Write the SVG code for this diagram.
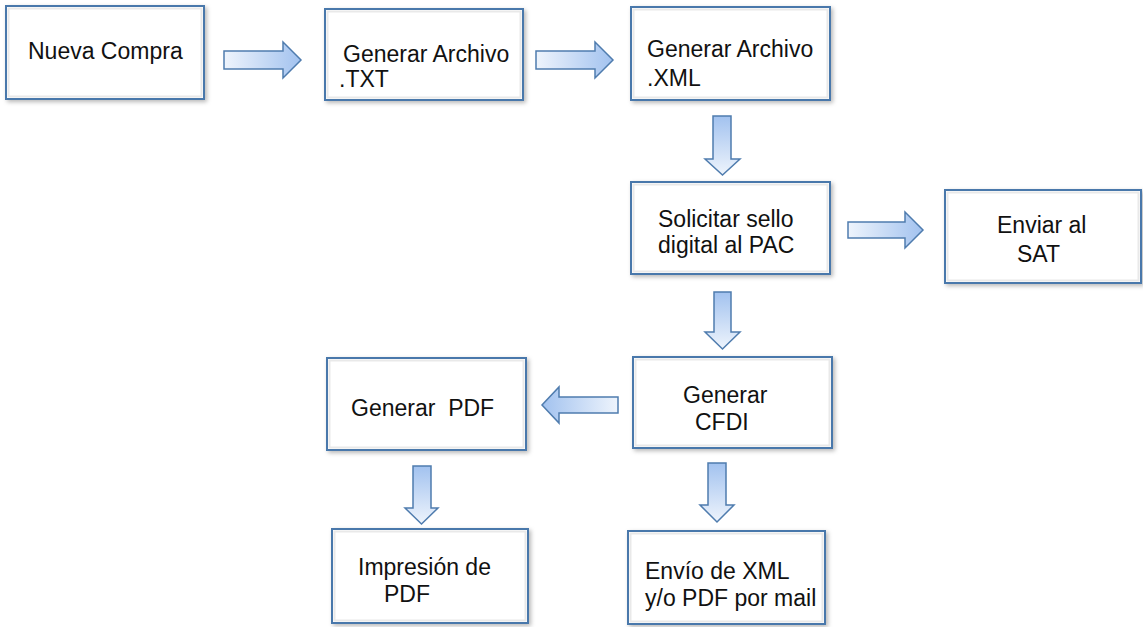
<svg xmlns="http://www.w3.org/2000/svg" width="1143" height="627" viewBox="0 0 1143 627">
<defs>
<filter id="sh" x="-10%" y="-10%" width="125%" height="130%">
<feDropShadow dx="2" dy="2" stdDeviation="2" flood-color="#000" flood-opacity="0.28"/>
</filter>
<linearGradient id="gR" x1="0" y1="0" x2="1" y2="0"><stop offset="0" stop-color="#eef4fc"/><stop offset="1" stop-color="#a2c2ef"/></linearGradient>
<linearGradient id="gL" x1="1" y1="0" x2="0" y2="0"><stop offset="0" stop-color="#eef4fc"/><stop offset="1" stop-color="#a2c2ef"/></linearGradient>
<linearGradient id="gD" x1="0" y1="0" x2="0" y2="1"><stop offset="0" stop-color="#a2c2ef"/><stop offset="1" stop-color="#eef4fc"/></linearGradient>
<style>
.box{fill:#fff;stroke:#4a78ab;stroke-width:2;filter:url(#sh)}
.inner{fill:none;stroke:#e9e9e9;stroke-width:2}
.t{font-family:"Liberation Sans",Arial,sans-serif;font-size:23px;fill:#111}
.arr{stroke:#4f7cae;stroke-width:1.5;stroke-linejoin:miter}
</style>
</defs>
<rect width="1143" height="627" fill="#fff"/>

<g id="connectors">
<path class="arr" fill="url(#gR)" d="M224,51 H283 V42 L301,60 L283,78 V69 H224 Z"/>
<path class="arr" fill="url(#gR)" d="M536,51 H595 V42 L613,60 L595,78 V69 H536 Z"/>
<path class="arr" fill="url(#gD)" d="M713,116 V159 H705 L722.5,175 L740,159 H731 V116 Z"/>
<path class="arr" fill="url(#gR)" d="M848,222 H905 V212 L923,230 L905,248 V238 H848 Z"/>
<path class="arr" fill="url(#gD)" d="M714,292 V332 H705 L722.5,349 L740,332 H731 V292 Z"/>
<path class="arr" fill="url(#gL)" d="M618,397 H559 V387 L542,405 L559,423 V413 H618 Z"/>
<path class="arr" fill="url(#gD)" d="M413,466 V508 H405 L421.5,524 L438,508 H431 V466 Z"/>
<path class="arr" fill="url(#gD)" d="M708,463 V505 H700 L717,522 L734,505 H726 V463 Z"/>
</g>

<g id="nueva-compra">
<rect class="box" x="6" y="6" width="198" height="93"/>
<rect class="inner" x="8.5" y="8.5" width="193" height="88"/>
<text class="t" x="28" y="59">Nueva Compra</text>
</g>

<g id="generar-txt">
<rect class="box" x="325" y="9" width="198" height="91"/>
<rect class="inner" x="327.5" y="11.5" width="193" height="86"/>
<text class="t" x="343" y="62">Generar Archivo</text>
<text class="t" x="339" y="87">.TXT</text>
</g>

<g id="generar-xml">
<rect class="box" x="631" y="7" width="199" height="93"/>
<rect class="inner" x="633.5" y="9.5" width="194" height="88"/>
<text class="t" x="647" y="57">Generar Archivo</text>
<text class="t" x="647" y="86">.XML</text>
</g>

<g id="solicitar-sello">
<rect class="box" x="631" y="182" width="199" height="92"/>
<rect class="inner" x="633.5" y="184.5" width="194" height="87"/>
<text class="t" x="658" y="227">Solicitar sello</text>
<text class="t" x="658" y="253">digital al PAC</text>
</g>

<g id="enviar-sat">
<rect class="box" x="945" y="190" width="196" height="93"/>
<rect class="inner" x="947.5" y="192.5" width="191" height="88"/>
<text class="t" x="997" y="233">Enviar al</text>
<text class="t" x="1017" y="262">SAT</text>
</g>

<g id="generar-cfdi">
<rect class="box" x="633" y="357" width="199" height="91"/>
<rect class="inner" x="635.5" y="359.5" width="194" height="86"/>
<text class="t" x="683" y="403">Generar</text>
<text class="t" x="695" y="430">CFDI</text>
</g>

<g id="generar-pdf">
<rect class="box" x="327" y="358" width="199" height="92"/>
<rect class="inner" x="329.5" y="360.5" width="194" height="87"/>
<text class="t" x="351" y="416" xml:space="preserve">Generar  PDF</text>
</g>

<g id="impresion-pdf">
<rect class="box" x="332" y="529" width="196" height="94"/>
<rect class="inner" x="334.5" y="531.5" width="191" height="89"/>
<text class="t" x="358" y="575">Impresión de</text>
<text class="t" x="384" y="602">PDF</text>
</g>

<g id="envio-xml">
<rect class="box" x="628" y="531" width="197" height="93"/>
<rect class="inner" x="630.5" y="533.5" width="192" height="88"/>
<text class="t" x="645" y="579">Envío de XML</text>
<text class="t" x="645" y="606">y/o PDF por mail</text>
</g>
</svg>
